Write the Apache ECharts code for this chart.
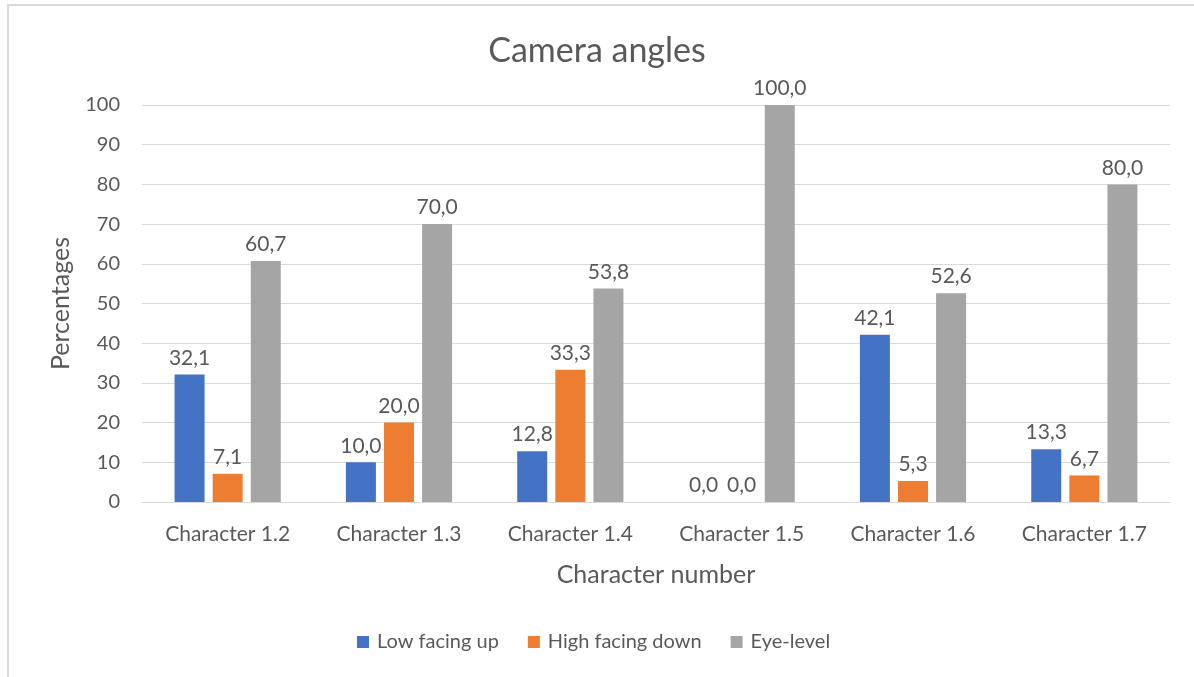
<!DOCTYPE html>
<html>
<head>
<meta charset="utf-8">
<title>Camera angles</title>
<script src="https://cdn.jsdelivr.net/npm/echarts@6/dist/echarts.min.js"></script>
<style>
  html, body { margin: 0; padding: 0; background: #fff; }
  #frame { position: absolute; left: 7px; top: 4px; width: 1187px; height: 673px;
           border-left: 2px solid #d9d9d9; border-top: 2px solid #d9d9d9; box-sizing: border-box; }
  #chart { position: absolute; left: 0; top: 0; width: 1194px; height: 677px; }
</style>
</head>
<body>
<div id="frame"></div>
<div id="chart"></div>
<script>
// Categories and percentages per camera angle
const categories = ['Character 1.2', 'Character 1.3', 'Character 1.4', 'Character 1.5', 'Character 1.6', 'Character 1.7'];
const lowFacingUp = [32.1, 10.0, 12.8, 0.0, 42.1, 13.3];
const highFacingDown = [7.1, 20.0, 33.3, 0.0, 5.3, 6.7];
const eyeLevel = [60.7, 70.0, 53.8, 100.0, 52.6, 80.0];
const seriesNames = ['Low facing up', 'High facing down', 'Eye-level'];

const FONT = 'Lato, "Open Sans", sans-serif';
const TEXT = '#595959';

const chart = echarts.init(document.getElementById('chart'), null, { renderer: 'canvas' });

function barSeries(name, data, color) {
  return {
    name: name,
    type: 'bar',
    data: data,
    barWidth: 30,
    barGap: '27%',
    itemStyle: { color: color },
    label: {
      show: true,
      position: 'top',
      distance: 6,
      color: TEXT,
      fontFamily: FONT,
      fontSize: 21,
      formatter: p => p.value.toFixed(1).replace('.', ',')
    }
  };
}

chart.setOption({
  animation: false,
  backgroundColor: 'transparent',
  title: {
    text: 'Camera angles',
    left: 'center',
    top: 29,
    textStyle: { color: TEXT, fontFamily: FONT, fontSize: 34, fontWeight: 'normal' }
  },
  legend: {
    bottom: 20,
    left: 352,
    itemWidth: 12,
    itemHeight: 12,
    itemGap: 29,
    icon: 'rect',
    textStyle: { color: TEXT, fontFamily: FONT, fontSize: 20, padding: [0, 0, 0, 3] },
    data: seriesNames
  },
  grid: { left: 142, right: 24, top: 105, bottom: 175 },
  xAxis: {
    type: 'category',
    data: categories,
    name: 'Character number',
    nameLocation: 'middle',
    nameGap: 60,
    nameTextStyle: { color: TEXT, fontFamily: FONT, fontSize: 25 },
    axisLine: { lineStyle: { color: '#d9d9d9', width: 1 } },
    axisTick: { show: false },
    axisLabel: { color: TEXT, fontFamily: FONT, fontSize: 21, margin: 22 }
  },
  yAxis: {
    type: 'value',
    min: 0,
    max: 100,
    interval: 10,
    name: 'Percentages',
    nameLocation: 'middle',
    nameGap: 69,
    nameTextStyle: { color: TEXT, fontFamily: FONT, fontSize: 25 },
    axisLine: { show: false },
    axisTick: { show: false },
    axisLabel: { color: TEXT, fontFamily: FONT, fontSize: 20, margin: 22 },
    splitLine: { lineStyle: { color: '#d9d9d9', width: 1 } }
  },
  series: [
    barSeries(seriesNames[0], lowFacingUp, '#4472c4'),
    barSeries(seriesNames[1], highFacingDown, '#ed7d31'),
    barSeries(seriesNames[2], eyeLevel, '#a5a5a5')
  ]
});
</script>
</body>
</html>
